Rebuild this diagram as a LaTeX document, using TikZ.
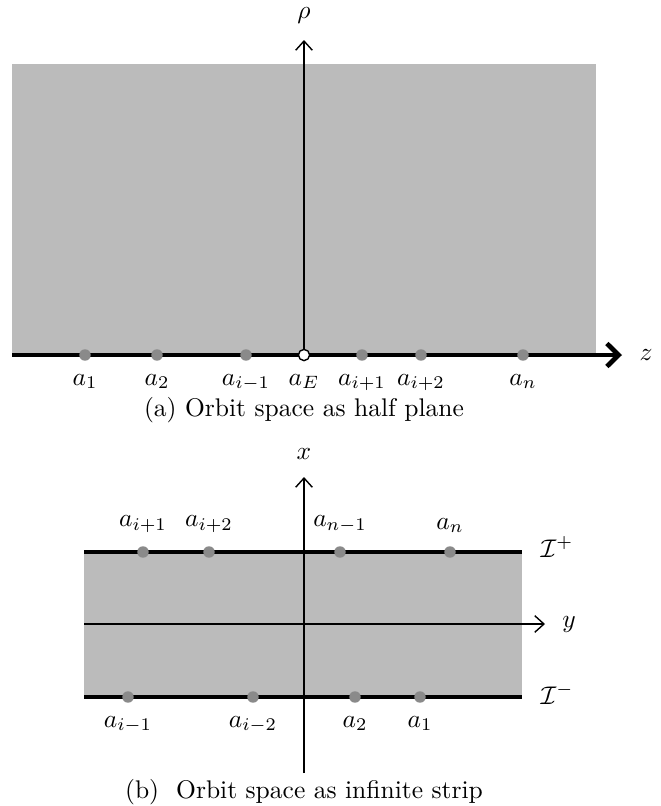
\documentclass[tikz,border=0pt]{standalone}
\usepackage{amsmath,amssymb}
\usetikzlibrary{arrows.meta,positioning}
\definecolor{regiongray}{HTML}{BBBBBB}
\definecolor{rodgray}{HTML}{8A8A8A}
\tikzset{
  every picture/.style={line join=round, >={Straight Barb[length=3.6pt,width=6.5pt]}},
  axisline/.style={line width=0.55pt,->},
  rodline/.style={line width=1.85pt},
  rodpt/.style={circle,fill=rodgray,inner sep=0pt,minimum size=4.5pt},
  horizonpt/.style={circle,draw=black,fill=white,line width=0.55pt,inner sep=0pt,minimum size=4.4pt},
}
\begin{document}
\begin{tikzpicture}[x=0.392pt,y=-0.392pt]
\useasboundingbox (0,0) rectangle (661,806);
% (a) half plane
\fill[regiongray] (12,64) rectangle (596,355);
\coordinate (zl) at (12,355); \coordinate (zr) at (622,355);
\coordinate (rb) at (304,355); \coordinate (rt) at (304,40);
\draw[rodline,-{Straight Barb[length=4.6pt,width=9pt]}] (zl) -- (zr);
\draw[axisline] (rb) -- (rt);
\node (zlab) at (646,355) {$z$};
\node (rholab) at (304,15) {$\rho$};
\foreach \px/\nm/\lab in {85/a1/a_1,157/a2/a_2,246/aim/a_{i-1},362/aip/a_{i+1},421/aipp/a_{i+2},523/an/a_n}{
  \node[rodpt] (\nm) at (\px,355) {};
  \node[below=1.5pt of \nm] {$\lab$};
}
\node[horizonpt] (aE) at (304,355) {};
\node[below=1.5pt of aE] {$a_E$};
\node (capa) at (304,410) {(a) Orbit space as half plane};
% (b) infinite strip
\fill[regiongray] (84,552) rectangle (522,697);
\coordinate (tl) at (84,552); \coordinate (tr) at (522,552);
\coordinate (bl) at (84,697); \coordinate (br) at (522,697);
\coordinate (yl) at (84,624); \coordinate (yr) at (545,624);
\coordinate (xb) at (304,773); \coordinate (xt) at (304,477);
\draw[axisline] (yl) -- (yr);
\draw[axisline] (xb) -- (xt);
\draw[rodline] (tl) -- (tr);
\draw[rodline] (bl) -- (br);
\node (ylab) at (569,624) {$y$};
\node (xlab) at (304,454) {$x$};
\node (Ip) at (557,547) {$\mathcal{I}^+$};
\node (Im) at (557,694) {$\mathcal{I}^-$};
\foreach \px/\nm/\lab in {143/bip/a_{i+1},209/bipp/a_{i+2},340/bnm/a_{n-1},450/bn/a_n}{
  \node[rodpt] (\nm) at (\px,552) {};
  \node[above=1.5pt of \nm] {$\lab$};
}
\foreach \px/\nm/\lab in {128/bim/a_{i-1},253/bimm/a_{i-2},355/btwo/a_2,420/bone/a_1}{
  \node[rodpt] (\nm) at (\px,697) {};
  \node[below=1.5pt of \nm] {$\lab$};
}
\node (capb) at (304,792) {(b)\ \ Orbit space as infinite strip};
\end{tikzpicture}
\end{document}
